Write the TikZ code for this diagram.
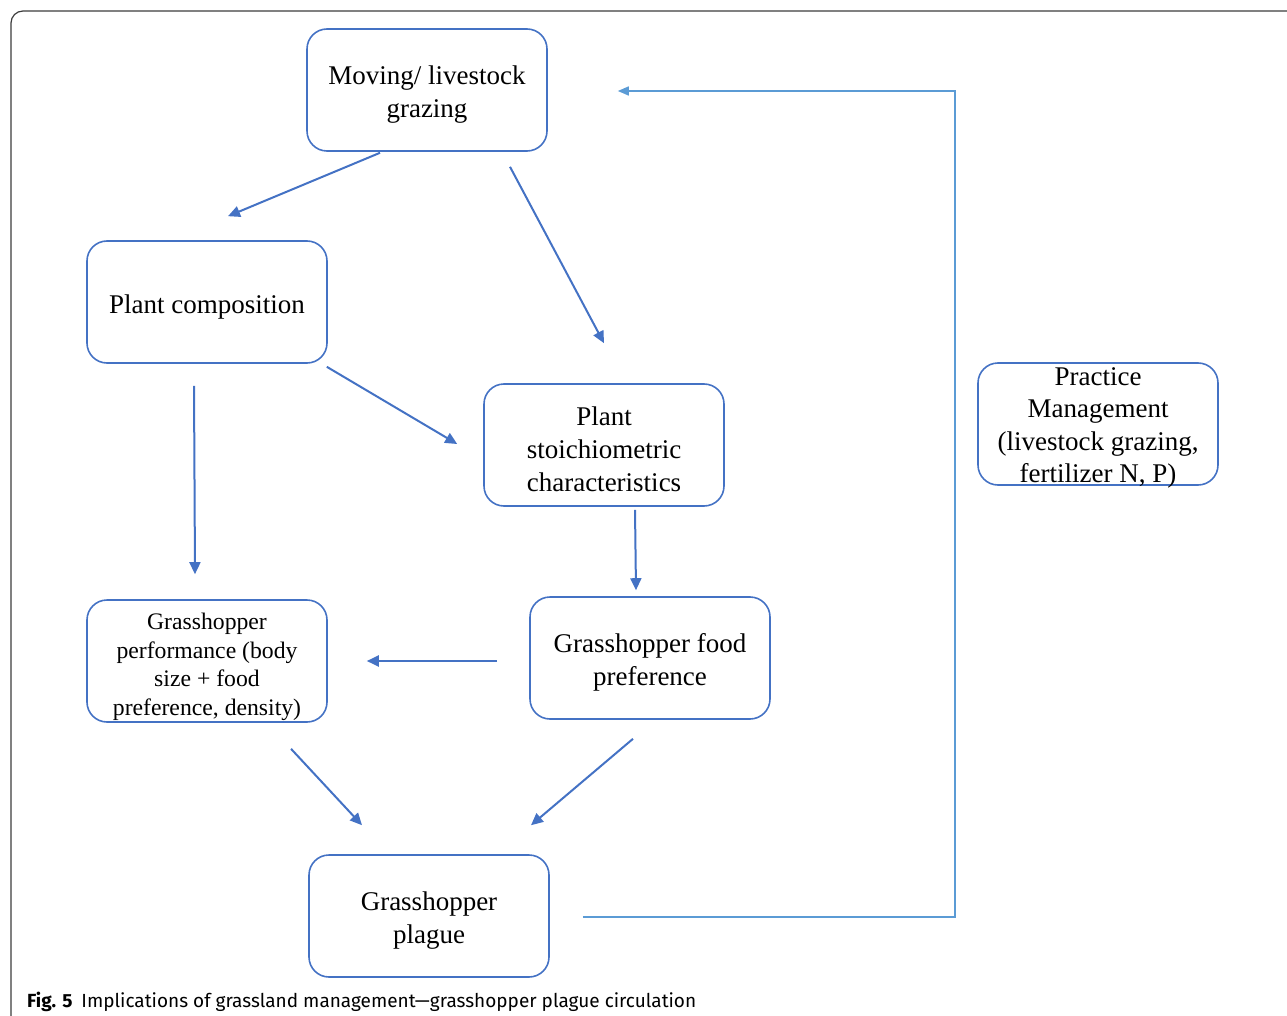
\documentclass[tikz,border=0pt]{standalone}
\usepackage{fontspec}
\setmainfont{Liberation Serif}
\newfontfamily\captionfont{Fira Sans}
\usetikzlibrary{arrows.meta,calc}
\definecolor{boxblue}{RGB}{68,114,196}
\definecolor{loopblue}{RGB}{91,155,213}
\definecolor{framegray}{RGB}{60,60,60}
\newcommand{\lift}{\rule{0pt}{28pt}}
\begin{document}
\begin{tikzpicture}[x=1pt, y=-1pt,
    factor/.style={rectangle, draw=boxblue, line width=1.6pt, rounded corners=20pt,
        minimum width=240pt, minimum height=122pt, inner sep=1pt, align=center,
        font=\fontsize{27}{33}\selectfont},
    small/.style={font=\fontsize{23.7}{28.5}\selectfont},
    link/.style={draw=boxblue, line width=2pt, -{Triangle[length=12pt,width=11pt]}},
    feedback/.style={draw=loopblue, line width=1.6pt, -{Triangle[length=11pt,width=9pt]}}
]
\useasboundingbox (0,0) rectangle (1287,1016);
\draw[framegray, line width=1.2pt, rounded corners=12pt] (11,1016) -- (11,11) -- (1287,11);

\node (Grazing) [factor] at (427,90) {\lift Moving/ livestock\\grazing};
\node (Composition) [factor] at (207,302) {\lift Plant composition};
\node (Stoichiometry) [factor] at (604,445) {\lift Plant\\stoichiometric\\characteristics};
\node (Performance) [factor, small] at (207,661) {\lift Grasshopper\\performance (body\\size + food\\preference, density)};
\node (Preference) [factor] at (650,658) {\lift Grasshopper food\\preference};
\node (Plague) [factor] at (429,916) {\lift Grasshopper\\plague};
\node (Practice) [factor] at (1098,424) {};
\node (PracticeText) [font=\fontsize{27}{32.5}\selectfont, align=center] at ($(Practice.center)+(0,4)$)
    {Practice\\Management\\(livestock grazing,\\fertilizer N, P)};

\draw[link] ($(Grazing.south)+(-47,1)$) -- ($(Composition.north)+(21,-24)$);
\draw[link] ($(Grazing.south)+(83,15)$) -- ($(Stoichiometry.north)+(0,-40)$);
\draw[link] ($(Composition.south east)+(-1,3)$) -- ($(Stoichiometry.west)+(-26,-1)$);
\draw[link] ($(Composition.south)+(-13,22)$) -- ($(Performance.north)+(-12,-25)$);
\draw[link] ($(Stoichiometry.south)+(31,3)$) -- ($(Preference.north)+(-14,-6)$);
\draw[link] ($(Preference.west)+(-32,3)$) -- ($(Performance.east)+(39,0)$);
\draw[link] ($(Performance.south)+(84,26)$) -- ($(Plague.north)+(-67,-29)$);
\draw[link] ($(Preference.south)+(-17,19)$) -- ($(Plague.north)+(102,-29)$);

\draw[feedback] ($(Plague.east)+(33,1)$) -| ($(Practice.west)+(-22,0)$) |- ($(Grazing.east)+(70,1)$);

\node (Caption) [anchor=base west, font=\captionfont\fontsize{19}{23}\selectfont, inner sep=0pt]
    at (27,1007) {\textbf{Fig. 5}\hspace{9pt}Implications of grassland management\textemdash grasshopper plague circulation};
\end{tikzpicture}
\end{document}
